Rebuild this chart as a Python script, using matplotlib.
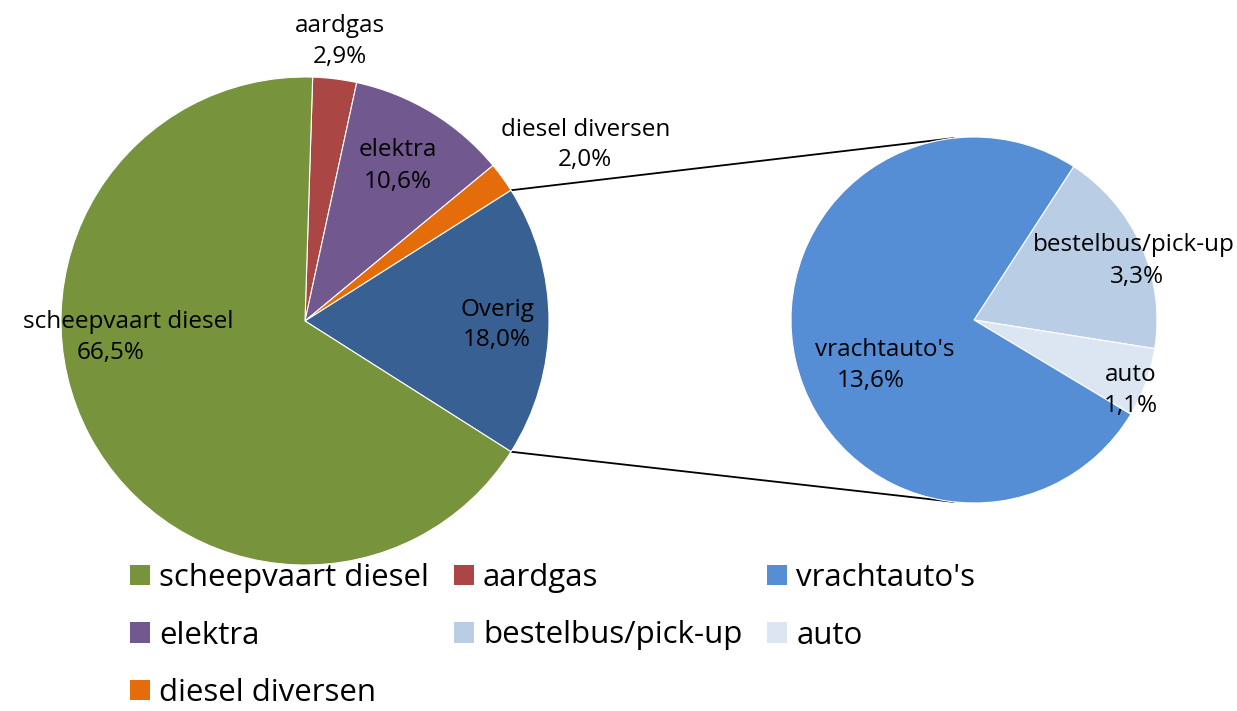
import numpy as np
import matplotlib.pyplot as plt
from matplotlib.patches import Patch

plt.rcParams["font.family"] = ["Open Sans", "DejaVu Sans"]

# main pie (clockwise, first slice aardgas)
main_labels = ["aardgas", "elektra", "diesel diversen", "Overig", "scheepvaart diesel"]
main_values = [2.9, 10.6, 2.0, 18.0, 66.5]
main_colors = ["#AA4643", "#71588F", "#E46C0A", "#386092", "#77933C"]

# secondary pie (breakdown of Overig)
sub_labels = ["bestelbus/pick-up", "auto", "vrachtauto's"]
sub_values = [3.3, 1.1, 13.6]
sub_colors = ["#B9CDE5", "#DCE6F2", "#558ED5"]

legend_order = ["scheepvaart diesel", "elektra", "diesel diversen",
                "aardgas", "bestelbus/pick-up", "vrachtauto's", "auto"]

W, H = 1237, 711
fig = plt.figure(figsize=(W / 100, H / 100), dpi=100)
ax = fig.add_axes([0, 0, 1, 1])


def px(x, y):
    # pixel position (from top-left) -> data coords
    return x, H - y


main_c, main_r = px(305, 321), 244
sub_c, sub_r = px(974, 320), 183

# rotate so that the "Overig" slice is centred on the right
idx = main_labels.index("Overig")
before = sum(main_values[:idx])
start_main = (before + main_values[idx] / 2) * 3.6

wedges_main, _ = ax.pie(main_values, colors=main_colors, startangle=start_main,
                        counterclock=False, center=main_c, radius=main_r,
                        wedgeprops=dict(edgecolor="white", linewidth=0.8))
wedges_sub, _ = ax.pie(sub_values, colors=sub_colors, startangle=57,
                       counterclock=False, center=sub_c, radius=sub_r,
                       wedgeprops=dict(edgecolor="white", linewidth=0.8))

# connector lines from Overig edges to the secondary pie
a1 = np.deg2rad(start_main - before * 3.6)
a2 = np.deg2rad(start_main - (before + main_values[idx]) * 3.6)
for a, b in [(a1, np.deg2rad(96.5)), (a2, np.deg2rad(-96.5))]:
    x0 = main_c[0] + main_r * np.cos(a)
    y0 = main_c[1] + main_r * np.sin(a)
    x1 = sub_c[0] + sub_r * np.cos(b)
    y1 = sub_c[1] + sub_r * np.sin(b)
    ax.plot([x0, x1], [y0, y1], color="black", lw=1.3, zorder=0)

# data labels: name position and value position (pixels)
name_pos = {
    "aardgas": (340, 26), "elektra": (398, 150), "diesel diversen": (586, 130),
    "Overig": (497, 310), "scheepvaart diesel": (128, 322),
    "vrachtauto's": (885, 350), "bestelbus/pick-up": (1134, 245), "auto": (1131, 375),
}
value_pos = {
    "aardgas": (340, 57), "elektra": (398, 182), "diesel diversen": (585, 160),
    "Overig": (497, 340), "scheepvaart diesel": (111, 353),
    "vrachtauto's": (871, 381), "bestelbus/pick-up": (1137, 277), "auto": (1131, 406),
}
all_values = dict(zip(main_labels + sub_labels, main_values + sub_values))
for name, val in all_values.items():
    ax.text(*px(*name_pos[name]), name, ha="center", va="center", fontsize=17.5)
    ax.text(*px(*value_pos[name]), f"{val:.1f}%".replace(".", ","),
            ha="center", va="center", fontsize=17.5)

ax.set_xlim(0, W)
ax.set_ylim(0, H)
ax.set_aspect("equal")
ax.axis("off")

color_map = dict(zip(main_labels + sub_labels, main_colors + sub_colors))
handles = [Patch(facecolor=color_map[n], label=n) for n in legend_order]
fig.legend(handles=handles, ncol=3, loc="upper left",
           bbox_to_anchor=(130 / W, 1 - 563 / H), frameon=False,
           fontsize=22.5, handlelength=0.63, handleheight=0.63,
           handletextpad=0.3, columnspacing=0.8, labelspacing=0.88,
           borderaxespad=0, borderpad=0)

fig.savefig("out.png", dpi=100)
